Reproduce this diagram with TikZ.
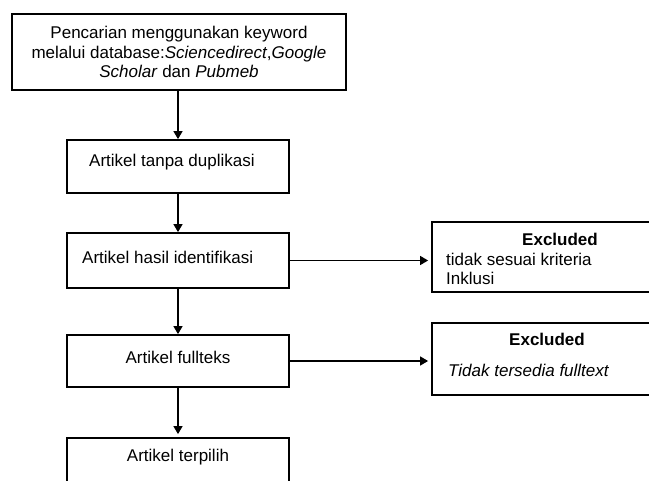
\documentclass[tikz,border=0pt]{standalone}
\usepackage{fontspec}
\setmainfont{Liberation Sans}
\usetikzlibrary{arrows.meta}
\begin{document}
\begin{tikzpicture}[x=1pt,y=-1pt,
  font=\fontsize{17}{19.5}\selectfont,
  stepbox/.style={draw, line width=1.8pt, rectangle, inner sep=0pt},
  txt/.style={inner sep=0pt},
  conn/.style={line width=1.4pt, -{Triangle[length=8pt,width=9pt]}}]
\useasboundingbox (0,0) rectangle (649,481);
\clip (0,0) rectangle (649,481);
\node[stepbox, minimum width=334pt, minimum height=76pt, align=center] (b1) at (179,52)
  {Pencarian menggunakan keyword\\melalui database:\textit{Sciencedirect},\textit{Google}\\\textit{Scholar} dan \textit{Pubmeb}};
\node[stepbox, minimum width=222pt, minimum height=53pt] (b2) at (178,166.5) {};
\node[txt, anchor=west] (t2) at (89,162) {Artikel tanpa duplikasi};
\node[stepbox, minimum width=222pt, minimum height=55pt] (b3) at (178,260.5) {};
\node[txt, anchor=west] (t3) at (82,257) {Artikel hasil identifikasi};
\node[stepbox, minimum width=222pt, minimum height=52pt] (b4) at (178,361) {};
\node[txt] (t4) at (178,357) {Artikel fullteks};
\node[stepbox, minimum width=222pt, minimum height=62pt] (b5) at (178,469) {};
\node[txt] (t5) at (178,457) {Artikel terpilih};
\node[stepbox, minimum width=223pt, minimum height=70pt] (e1) at (543.5,257) {};
\node[txt, font=\fontsize{17}{19.5}\selectfont\bfseries] (h1) at (560,239) {Excluded};
\node[txt, anchor=west, align=left] (x1) at (446,269) {tidak sesuai kriteria\\Inklusi};
\node[stepbox, minimum width=223pt, minimum height=72pt] (e2) at (543.5,359) {};
\node[txt, font=\fontsize{17}{19.5}\selectfont\bfseries] (h2) at (547,339) {Excluded};
\node[txt, anchor=west, font=\fontsize{17}{19.5}\selectfont\itshape] (x2) at (448,370) {Tidak tersedia fulltext};
\draw[conn] (b2.north |- b1.south) -- (b2.north);
\draw[conn] (b2.south) -- (b3.north);
\draw[conn] (b3.south) -- (b4.north);
\draw[conn, shorten >=3pt] (b4.south) -- (b5.north);
\draw[conn, shorten >=3pt] (b3.east) -- (b3.east -| e1.west);
\draw[conn, shorten >=3pt] (b4.east) -- (b4.east -| e2.west);
\end{tikzpicture}
\end{document}
